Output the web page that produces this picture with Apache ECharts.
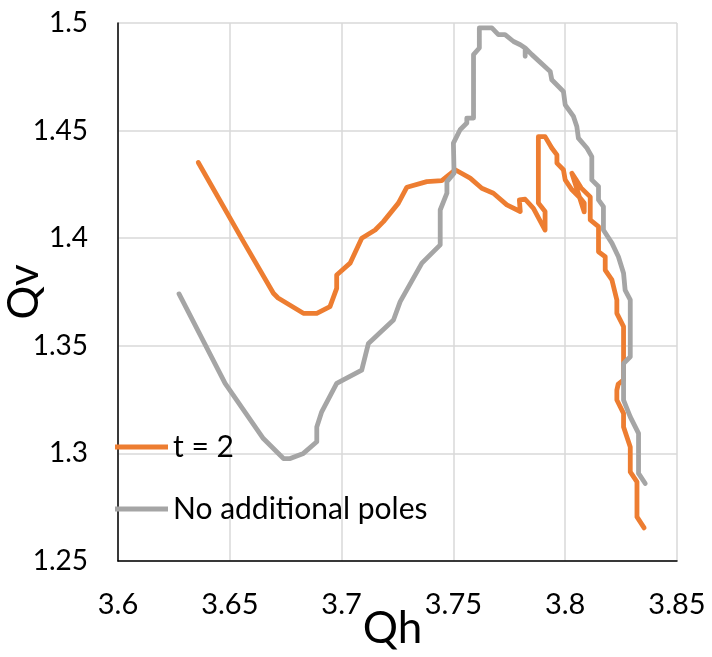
<!DOCTYPE html>
<html>
<head>
<meta charset="utf-8">
<script src="https://cdn.jsdelivr.net/npm/echarts@6/dist/echarts.min.js"></script>
<style>
  html, body { margin: 0; padding: 0; background: #fff; }
  #chart { width: 712px; height: 657px; }
</style>
</head>
<body>
<div id="chart"></div>
<script>
// Series names
const seriesNames = ['t = 2', 'No additional poles'];

// Trajectory for t = 2 : Qh values and matching Qv values
const qhT2 = [
  3.6359, 3.6561, 3.6695, 3.6716, 3.6829, 3.6889, 3.6948, 3.6978, 3.6978, 3.7038,
  3.7090, 3.7150, 3.7187, 3.7254, 3.7292, 3.7381, 3.7448, 3.7508, 3.7575, 3.7627,
  3.7679, 3.7739, 3.7799, 3.7795, 3.7821, 3.7858, 3.7910, 3.7910, 3.7880, 3.7880,
  3.7910, 3.7940, 3.7963, 3.7963, 3.7992, 3.8000, 3.8030, 3.8067, 3.8085, 3.8085,
  3.8030, 3.8049, 3.8071, 3.8112, 3.8112, 3.8149, 3.8149, 3.8179, 3.8179, 3.8209,
  3.8231, 3.8231, 3.8261, 3.8261, 3.8237, 3.8231, 3.8231, 3.8261, 3.8261, 3.8291,
  3.8291, 3.8321, 3.8321, 3.8353
];
const qvT2 = [
  1.4352, 1.3984, 1.3744, 1.3722, 1.3651, 1.3651, 1.3682, 1.3767, 1.3829, 1.3884,
  1.4000, 1.4038, 1.4077, 1.4163, 1.4237, 1.4263, 1.4268, 1.4318, 1.4279, 1.4232,
  1.4209, 1.4155, 1.4124, 1.4178, 1.4181, 1.4139, 1.4038, 1.4124, 1.4163, 1.4472,
  1.4472, 1.4419, 1.4387, 1.4349, 1.4318, 1.4271, 1.4225, 1.4187, 1.4164, 1.4122,
  1.4302, 1.4271, 1.4234, 1.4192, 1.4085, 1.4054, 1.3937, 1.3914, 1.3852, 1.3806,
  1.3713, 1.3651, 1.3589, 1.3341, 1.3322, 1.3294, 1.3248, 1.3186, 1.3123, 1.3030,
  1.2914, 1.2868, 1.2705, 1.2654
];

// Trajectory with no additional poles : Qh values and matching Qv values
const qhBase = [
  3.6273, 3.6479, 3.6650, 3.6740, 3.6770, 3.6829, 3.6889, 3.6889, 3.6911, 3.6978,
  3.7090, 3.7120, 3.7232, 3.7262, 3.7359, 3.7441, 3.7441, 3.7471, 3.7471, 3.7503,
  3.7500, 3.7530, 3.7560, 3.7560, 3.7590, 3.7590, 3.7616, 3.7616, 3.7672, 3.7701,
  3.7731, 3.7769, 3.7799, 3.7821, 3.7821, 3.7821, 3.7851, 3.7933, 3.7940, 3.7992,
  3.8000, 3.8037, 3.8052, 3.8059, 3.8097, 3.8119, 3.8119, 3.8149, 3.8149, 3.8171,
  3.8171, 3.8209, 3.8238, 3.8261, 3.8268, 3.8291, 3.8291, 3.8261, 3.8261, 3.8291,
  3.8328, 3.8328, 3.8358
];
const qvBase = [
  1.3741, 1.3325, 1.3069, 1.2976, 1.2976, 1.3000, 1.3054, 1.3123, 1.3193, 1.3325,
  1.3387, 1.3511, 1.3620, 1.3705, 1.3884, 1.3969, 1.4131, 1.4209, 1.4263, 1.4302,
  1.4442, 1.4504, 1.4535, 1.4558, 1.4558, 1.4853, 1.4884, 1.4977, 1.4977, 1.4946,
  1.4946, 1.4914, 1.4899, 1.4884, 1.4845, 1.4884, 1.4853, 1.4775, 1.4736, 1.4682,
  1.4620, 1.4566, 1.4519, 1.4465, 1.4419, 1.4379, 1.4271, 1.4240, 1.4178, 1.4147,
  1.4038, 1.3977, 1.3914, 1.3837, 1.3759, 1.3713, 1.3449, 1.3418, 1.3248, 1.3170,
  1.3093, 1.2907, 1.2860
];

// Axis ranges and tick step
const qhRange = [3.6, 3.85];
const qvRange = [1.25, 1.5];
const tickStep = 0.05;

const pairs = (xs, ys) => xs.map((x, i) => [x, ys[i]]);

const font = 'Lato, "Open Sans", "Noto Sans", sans-serif';

const chart = echarts.init(document.getElementById('chart'), null, { renderer: 'canvas' });

const lineSeries = (name, xs, ys, color) => ({
  name: name,
  type: 'line',
  data: pairs(xs, ys),
  showSymbol: false,
  symbol: 'none',
  smooth: false,
  animation: false,
  color: color,
  lineStyle: { color: color, width: 4.8, cap: 'round', join: 'round' }
});

chart.setOption({
  backgroundColor: '#ffffff',
  animation: false,
  grid: { left: 118, right: 35, top: 23, bottom: 96, containLabel: false, outerBoundsMode: 'none' },
  legend: {
    orient: 'vertical',
    left: 110,
    top: 427,
    icon: 'rect',
    itemWidth: 53,
    itemHeight: 5,
    itemGap: 32,
    textStyle: { fontFamily: font, fontSize: 30, color: '#000' },
    data: seriesNames
  },
  xAxis: {
    type: 'value',
    min: qhRange[0],
    max: qhRange[1],
    interval: tickStep,
    name: 'Qh',
    nameLocation: 'middle',
    nameGap: 46,
    nameMoveOverlap: false,
    nameTextStyle: { fontFamily: font, fontSize: 44, color: '#000', padding: [0, 10, 0, 0] },
    axisLine: { show: true, onZero: false, lineStyle: { color: '#000', width: 1.5 } },
    axisTick: { show: false },
    axisLabel: { fontFamily: font, fontSize: 29, color: '#000', margin: 29,
      formatter: v => String(parseFloat(v.toFixed(2))) },
    splitLine: { show: true, lineStyle: { color: '#d9d9d9', width: 1.5 } }
  },
  yAxis: {
    type: 'value',
    min: qvRange[0],
    max: qvRange[1],
    interval: tickStep,
    name: 'Qv',
    nameLocation: 'middle',
    nameGap: 73,
    nameRotate: 90,
    nameMoveOverlap: false,
    nameTextStyle: { fontFamily: font, fontSize: 42, color: '#000' },
    axisLine: { show: true, onZero: false, lineStyle: { color: '#000', width: 1.5 } },
    axisTick: { show: false },
    axisLabel: { fontFamily: font, fontSize: 28, color: '#000', margin: 30,
      formatter: v => String(parseFloat(v.toFixed(2))) },
    splitLine: { show: true, lineStyle: { color: '#d9d9d9', width: 1.5 } }
  },
  series: [
    lineSeries(seriesNames[0], qhT2, qvT2, '#ED7D31'),
    lineSeries(seriesNames[1], qhBase, qvBase, '#A5A5A5')
  ]
});
</script>
</body>
</html>
